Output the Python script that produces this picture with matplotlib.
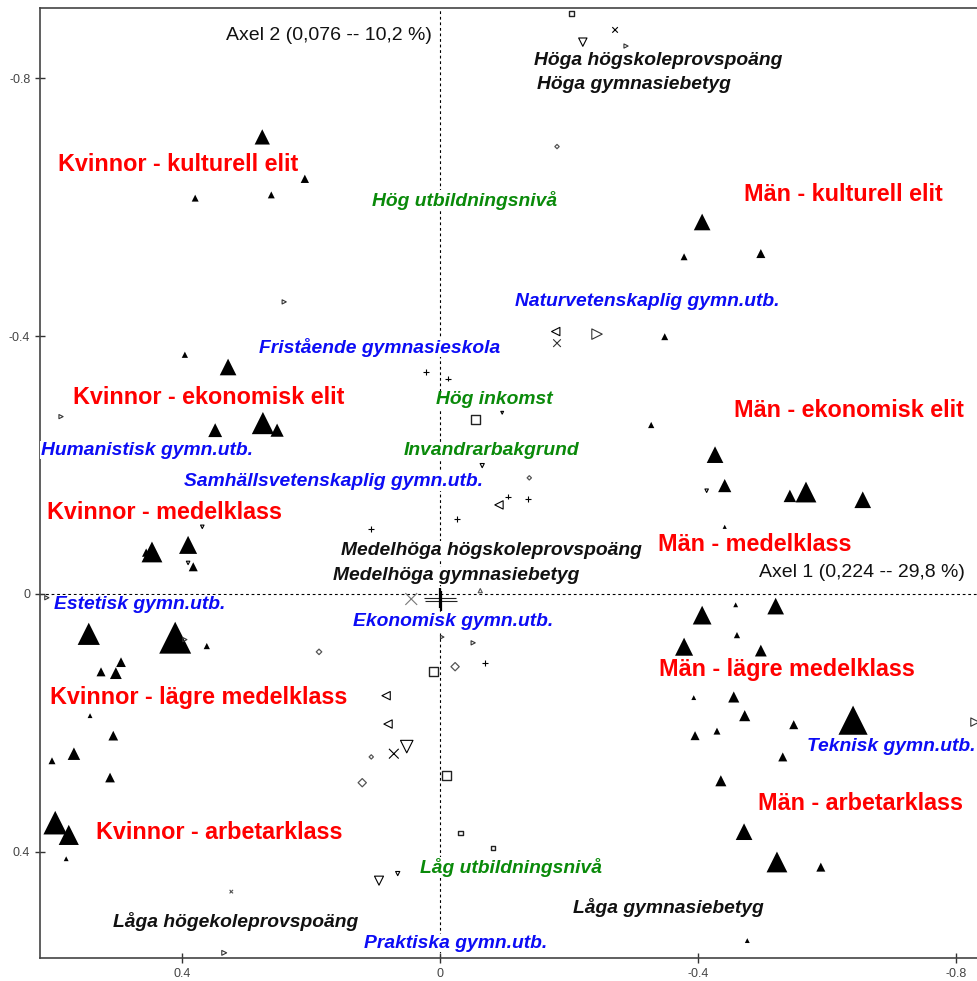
import matplotlib.pyplot as plt
import numpy as np

plt.rcParams["font.family"] = ["Liberation Sans", "DejaVu Sans"]

# Filled triangles (individual sub-groups), axis 1 / axis 2 coordinates and size
tri_x = [0.276, 0.210, 0.262, 0.380, 0.396, 0.329, 0.349, 0.275, 0.253, 0.447,
         0.456, 0.391, 0.383, 0.545, 0.411, 0.362, 0.495, 0.526, 0.503, 0.543,
         0.507, 0.568, 0.602, 0.512, 0.597, 0.576, 0.580,
         -0.406, -0.378, -0.497, -0.348, -0.327, -0.426, -0.441, -0.542, -0.567, -0.655,
         -0.441, -0.406, -0.458, -0.520, -0.460, -0.378, -0.497, -0.393, -0.455, -0.472,
         -0.548, -0.640, -0.395, -0.429, -0.531, -0.435, -0.471, -0.522, -0.590, -0.476]
tri_y = [-0.709, -0.644, -0.619, -0.614, -0.371, -0.352, -0.254, -0.265, -0.254, -0.065,
         -0.064, -0.076, -0.042, 0.062, 0.068, 0.081, 0.106, 0.121, 0.123, 0.189,
         0.220, 0.248, 0.259, 0.285, 0.355, 0.374, 0.411,
         -0.577, -0.523, -0.528, -0.399, -0.262, -0.216, -0.168, -0.152, -0.158, -0.146,
         -0.104, 0.033, 0.017, 0.019, 0.064, 0.082, 0.088, 0.161, 0.160, 0.189,
         0.203, 0.196, 0.220, 0.213, 0.253, 0.290, 0.369, 0.416, 0.424, 0.538]
tri_size = [11, 6, 5, 5, 4.5, 12, 10, 16, 9.5, 15,
            6, 13, 6.5, 16, 23, 4.5, 7, 6.5, 8.5, 3.5,
            7, 9, 5, 7, 17, 14.5, 3.5,
            12, 5, 6.5, 5, 4.5, 12, 9.5, 9, 15, 12,
            3, 13.5, 3.5, 12, 4.5, 13, 8.5, 3.5, 8, 8,
            6.5, 21, 6.5, 5, 6.5, 8, 12, 15, 6.5, 3.5]

# Category points (open markers)
sq_x = [-0.203, -0.055, 0.011, -0.010, -0.031, -0.082]
sq_y = [-0.901, -0.270, 0.121, 0.282, 0.371, 0.394]
sq_size = [3.5, 6.5, 6.5, 6.5, 3.5, 2.5]

dn_x = [-0.221, -0.065, -0.413, 0.369, 0.391, 0.052, 0.095, 0.066, -0.096]
dn_y = [-0.856, -0.199, -0.160, -0.104, -0.048, 0.237, 0.445, 0.434, -0.281]
dn_size = [6, 3, 2.5, 2.5, 2.5, 9, 6.5, 3, 2]

lt_x = [-0.179, -0.091, 0.084, 0.081]
lt_y = [-0.407, -0.138, 0.158, 0.202]
lt_size = [6, 6, 6, 6]

rt_x = [-0.243, -0.288, 0.242, 0.588, 0.610, 0.396, -0.051, -0.829, 0.335, -0.003]
rt_y = [-0.403, -0.850, -0.453, -0.275, 0.006, 0.071, 0.076, 0.199, 0.557, 0.067]
rt_size = [7.5, 3, 3, 3, 3, 3, 3, 6, 3.5, 2.5]

up_x = [-0.062]
up_y = [-0.005]
up_size = [3]

cross_x = [-0.271, -0.181, 0.045, 0.072, 0.324]
cross_y = [-0.875, -0.389, 0.008, 0.248, 0.462]
cross_size = [4, 5.5, 8.5, 7, 2.5]

dia_x = [-0.181, -0.138, 0.188, -0.023, 0.107, 0.121]
dia_y = [-0.694, -0.180, 0.090, 0.113, 0.253, 0.293]
dia_size = [2.2, 2.2, 2.8, 4.2, 2.2, 4.2]

plus_x = [0.022, -0.012, 0.107, -0.026, -0.105, -0.136, -0.069]
plus_y = [-0.344, -0.334, -0.101, -0.116, -0.151, -0.147, 0.107]
plus_size = [4, 4, 4, 4, 4, 4, 4]

# centre of gravity
centre_x = [0.0, -0.001]
centre_y = [0.006, 0.011]

# Labels
red_labels = ["Kvinnor - kulturell elit", "Kvinnor - ekonomisk elit", "Kvinnor - medelklass",
              "Kvinnor - lägre medelklass", "Kvinnor - arbetarklass",
              "Män - kulturell elit", "Män - ekonomisk elit", "Män - medelklass",
              "Män - lägre medelklass", "Män - arbetarklass"]
red_x = [0.407, 0.359, 0.427, 0.375, 0.342, -0.625, -0.634, -0.487, -0.538, -0.651]
red_y = [-0.666, -0.304, -0.127, 0.161, 0.371, -0.619, -0.285, -0.076, 0.118, 0.326]

blue_labels = ["Naturvetenskaplig gymn.utb.", "Fristående gymnasieskola", "Humanistisk gymn.utb.",
               "Samhällsvetenskaplig gymn.utb.", "Estetisk gymn.utb.", "Ekonomisk gymn.utb.",
               "Teknisk gymn.utb.", "Praktiska gymn.utb."]
blue_x = [-0.321, 0.094, 0.455, 0.166, 0.466, -0.020, -0.699, -0.024]
blue_y = [-0.453, -0.383, -0.223, -0.174, 0.016, 0.043, 0.237, 0.542]

green_labels = ["Hög utbildningsnivå", "Hög inkomst", "Invandrarbakgrund", "Låg utbildningsnivå"]
green_x = [-0.038, -0.084, -0.079, -0.110]
green_y = [-0.610, -0.301, -0.222, 0.425]

black_labels = ["Höga högskoleprovspoäng", "Höga gymnasiebetyg", "Medelhöga högskoleprovspoäng",
                "Medelhöga gymnasiebetyg", "Låga högekoleprovspoäng", "Låga gymnasiebetyg"]
black_x = [-0.338, -0.300, -0.079, -0.024, 0.318, -0.354]
black_y = [-0.827, -0.791, -0.068, -0.028, 0.509, 0.487]

x_ticks = [0.4, 0, -0.4, -0.8]
y_ticks = [-0.8, -0.4, 0, 0.4]

fig = plt.figure(figsize=(9.78, 9.81), dpi=100)
ax = fig.add_axes([40 / 978, 23 / 981, 938 / 978, 950 / 981])
ax.set_xlim(0.6206, -0.8337)
ax.set_ylim(0.565, -0.909)

ax.axhline(0, color="black", lw=0.8, ls=(0, (2.5, 2.5)), zorder=1)
ax.axvline(0, color="black", lw=0.8, ls=(0, (2.5, 2.5)), zorder=1)

ax.scatter(tri_x, tri_y, s=np.array(tri_size) ** 2, marker="^", c="black",
           linewidths=0, zorder=4)


def open_pts(xs, ys, sizes, marker, color="black", lw=0.8):
    ax.scatter(xs, ys, s=np.array(sizes, dtype=float) ** 2, marker=marker,
               facecolors="none", edgecolors=color, linewidths=lw, zorder=4)


open_pts(sq_x, sq_y, sq_size, "s", "#222222", 1.0)
open_pts(dn_x, dn_y, dn_size, "v")
open_pts(lt_x, lt_y, lt_size, "<")
open_pts(rt_x, rt_y, rt_size, ">", "#333333")
open_pts(up_x, up_y, up_size, "^", "#555555")
open_pts(dia_x, dia_y, dia_size, "D", "#555555", 0.9)
ax.scatter(cross_x, cross_y, s=np.array(cross_size) ** 2, marker="x",
           c=["black", "#333333", "#777777", "black", "#555555"], linewidths=0.8, zorder=4)
ax.scatter(plus_x, plus_y, s=np.array(plus_size) ** 2, marker="+", c="black",
           linewidths=0.8, zorder=4)
ax.scatter(centre_x, centre_y, s=23 ** 2, marker="_", c="#222222", linewidths=0.8, zorder=4)
ax.scatter(centre_x, centre_y, s=14 ** 2, marker="|", c="black", linewidths=1.6, zorder=4)

box = dict(facecolor="white", edgecolor="none", pad=0.5)

for lab, x, y in zip(red_labels, red_x, red_y):
    ax.text(x, y, lab, color="#ff0000", fontsize=16.8, fontweight="bold",
            ha="center", va="center", bbox=box, zorder=3)

for lab, x, y in zip(blue_labels, blue_x, blue_y):
    ax.text(x, y, lab, color="#0c0cf5", fontsize=13.9, fontweight="bold", style="italic",
            ha="center", va="center", bbox=box, zorder=3)

for lab, x, y in zip(green_labels, green_x, green_y):
    ax.text(x, y, lab, color="#0a8a0a", fontsize=13.9, fontweight="bold", style="italic",
            ha="center", va="center", bbox=box, zorder=3)

for lab, x, y in zip(black_labels, black_x, black_y):
    ax.text(x, y, lab, color="#111111", fontsize=13.9, fontweight="bold", style="italic",
            ha="center", va="center", bbox=box, zorder=3)

ax.text(0.013, -0.867, "Axel 2 (0,076 -- 10,2 %)", fontsize=14, ha="right", va="center",
        color="#111111", bbox=box, zorder=3)
ax.text(-0.813, -0.033, "Axel 1 (0,224 -- 29,8 %)", fontsize=14, ha="right", va="center",
        color="#111111", bbox=box, zorder=3)

ax.set_xticks(x_ticks)
ax.set_xticklabels([f"{v:g}" for v in x_ticks])
ax.set_yticks(y_ticks)
ax.set_yticklabels([f"{v:g}" for v in y_ticks])
ax.tick_params(direction="inout", length=7, width=1, colors="#333333",
               labelsize=9, labelcolor="#444444")
for side in ["left", "bottom", "top"]:
    ax.spines[side].set_color("#444444")
    ax.spines[side].set_linewidth(1.2)
ax.spines["right"].set_visible(False)

plt.savefig("out.png", dpi=100)
